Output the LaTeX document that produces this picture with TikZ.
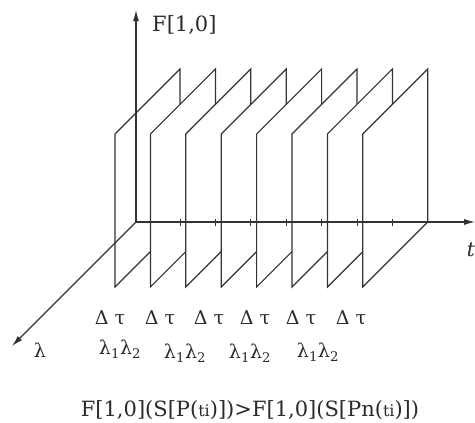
\documentclass[tikz,border=0pt]{standalone}
\usepackage{fontspec}
\setmainfont{DejaVu Serif}
\usepackage{xcolor}
\usepackage{tikz}
\usetikzlibrary{positioning, arrows.meta, calc}
\definecolor{slLine}{HTML}{333333}
\definecolor{slText}{HTML}{2A2A2A}
\tikzset{
  slice/.style={
    draw=slLine, line width=1.2pt,
    fill=white, line join=miter
  },
  axis/.style={
    -{Latex[length=11pt, width=6pt]},
    slLine, line width=1.2pt
  },
  axtick/.style={slLine, line width=0.8pt},
  lbl/.style={
    inner sep=0pt, text=slText,
    font=\fontsize{19}{21}\selectfont
  },
  biglbl/.style={lbl, font=\fontsize{21}{23}\selectfont}
}
\newcommand{\lampair}{λ\textsubscript{1}λ\textsubscript{2}}
\newcommand{\smallti}{{\fontsize{16}{16}\selectfont ti}}

\begin{document}
\begin{tikzpicture}[x=1pt, y=-1pt]
  \useasboundingbox (0,0) rectangle (475,423);

  % time slices, back to front
  \foreach \i in {0,...,7}{
    \pgfmathsetmacro\xf{115+35.4*\i}
    \draw[slice] (\xf,287) -- (\xf,134) -- (\xf+65,69) -- (\xf+65,222) -- cycle;
  }

  % axes
  \coordinate (O) at (136,222);
  \coordinate (Ftip) at (136,10);
  \coordinate (ttip) at (475,222);
  \coordinate (ltip) at (12,346);
  \draw[axis] (O) -- (Ftip);
  \draw[axis] (O) -- (ttip);
  \draw[axis] (O) -- (ltip);
  \foreach \k in {0,...,6}
    \draw[axtick] (180+35.4*\k,219) -- ++(0,7);

  \node[biglbl, anchor=west] (flbl) at (152,25) {F[1,0]};
  \node[biglbl, font=\fontsize{20}{22}\selectfont\itshape] (tlbl) at (471,250) {t};
  \node[lbl] (lam) at (40,350) {λ};

  \node[lbl] (d1) at (110,318) {Δ τ};
  \node[lbl] (d2) at (160,318) {Δ τ};
  \node[lbl] (d3) at (209,318) {Δ τ};
  \node[lbl] (d4) at (255,318) {Δ τ};
  \node[lbl] (d5) at (301,318) {Δ τ};
  \node[lbl] (d6) at (351,318) {Δ τ};

  \node[lbl] (p1) at (120,349) {\lampair};
  \node[lbl] (p2) at (185,353) {\lampair};
  \node[lbl] (p3) at (250,353) {\lampair};
  \node[lbl] (p4) at (318,352) {\lampair};

  \node[biglbl] (rel) at (250,410) {F[1,0](S[P(\smallti)])>F[1,0](S[Pn(\smallti)])};
\end{tikzpicture}
\end{document}
